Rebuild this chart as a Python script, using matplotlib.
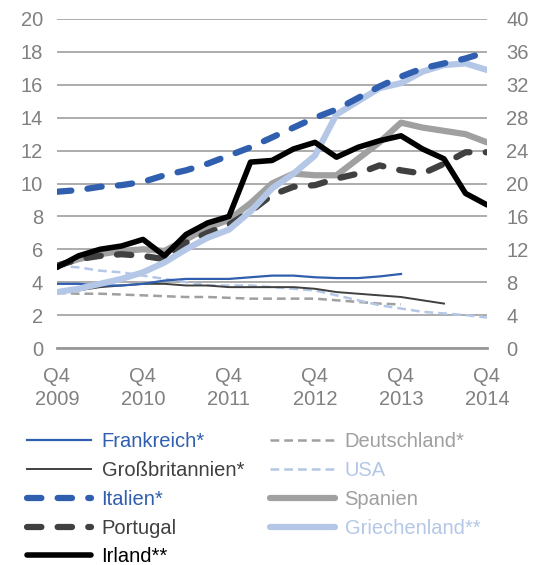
import matplotlib
matplotlib.use("Agg")
import matplotlib.pyplot as plt
import numpy as np

plt.rcParams['font.family'] = ['Liberation Sans', 'DejaVu Sans']

# quarters Q4 2009 .. Q4 2014
quarters = np.arange(21)
xtick_pos = [0, 4, 8, 12, 16, 20]
xtick_labels = ["Q4\n2009", "Q4\n2010", "Q4\n2011", "Q4\n2012", "Q4\n2013", "Q4\n2014"]

# left axis (%)
frankreich = [3.9, 3.9, 3.8, 3.8, 3.9, 4.1, 4.2, 4.2, 4.2, 4.3, 4.4, 4.4, 4.3, 4.25, 4.25, 4.35, 4.5]
deutschland = [3.35, 3.3, 3.3, 3.25, 3.2, 3.15, 3.1, 3.1, 3.05, 3.0, 3.0, 3.0, 3.0, 2.9, 2.8, 2.7, 2.65]
grossbritannien = [3.4, 3.5, 3.7, 3.8, 3.9, 3.9, 3.8, 3.8, 3.7, 3.7, 3.7, 3.7, 3.6, 3.4, 3.3, 3.2, 3.1, 2.9, 2.7]
usa = [5.0, 4.9, 4.7, 4.6, 4.4, 4.2, 4.0, 3.8, 3.8, 3.8, 3.7, 3.6, 3.5, 3.2, 2.9, 2.6, 2.4, 2.2, 2.1, 2.0, 1.85]
italien = [9.5, 9.6, 9.8, 9.9, 10.1, 10.5, 10.8, 11.2, 11.7, 12.2, 12.8, 13.4, 14.0, 14.5, 15.2, 15.9, 16.5, 17.0, 17.3, 17.6, 18.0]
spanien = [5.0, 5.4, 5.7, 5.9, 6.0, 5.9, 6.6, 7.3, 7.8, 8.8, 10.0, 10.6, 10.5, 10.5, 11.5, 12.5, 13.7, 13.4, 13.2, 13.0, 12.5]
portugal = [5.0, 5.4, 5.6, 5.7, 5.6, 5.4, 6.4, 7.0, 7.5, 8.3, 9.3, 9.8, 9.9, 10.3, 10.6, 11.1, 10.8, 10.6, 11.2, 11.9, 11.9]

# right axis (%)
griechenland = [6.8, 7.2, 7.8, 8.4, 9.2, 10.4, 12.0, 13.4, 14.4, 16.6, 19.4, 21.2, 23.4, 28.4, 30.0, 31.6, 32.2, 33.6, 34.4, 34.6, 33.8]
irland = [9.8, 11.2, 12.0, 12.4, 13.2, 11.2, 13.8, 15.2, 16.0, 22.6, 22.8, 24.2, 25.0, 23.2, 24.4, 25.2, 25.8, 24.2, 23.0, 18.8, 17.4]

blue = '#2f5fae'
lightblue = '#b4c7e7'
gray = '#a0a0a0'
dark = '#404040'
tickcol = '#808080'

fig = plt.figure(figsize=(5.39, 5.65), dpi=100)
ax = fig.add_axes([57/539, 1-348/565, 430/539, 329/565])
ax2 = ax.twinx()

h = {}
h['de'], = ax.plot(quarters[:len(deutschland)], deutschland, color=gray, lw=1.8,
                   dashes=(3.5, 2), label='Deutschland*')
h['us'], = ax.plot(quarters[:len(usa)], usa, color=lightblue, lw=1.8,
                   dashes=(3.5, 2), label='USA')
h['gb'], = ax.plot(quarters[:len(grossbritannien)], grossbritannien, color=dark, lw=1.4,
                   label='Großbritannien*')
h['fr'], = ax.plot(quarters[:len(frankreich)], frankreich, color=blue, lw=1.6,
                   label='Frankreich*')
h['es'], = ax.plot(quarters, spanien, color=gray, lw=4.5, solid_capstyle='round',
                   label='Spanien')
h['pt'], = ax.plot(quarters, portugal, color=dark, lw=4.5, dashes=(2.3, 2.6),
                   dash_capstyle='round', label='Portugal')
h['gr'], = ax2.plot(quarters, griechenland, color=lightblue, lw=4.5,
                    solid_capstyle='round', label='Griechenland**')
h['ie'], = ax2.plot(quarters, irland, color='black', lw=4,
                    solid_capstyle='round', label='Irland**')
h['it'], = ax2.plot(quarters, [v * 2 for v in italien], color=blue, lw=4.5,
                    dashes=(2.3, 2.6), dash_capstyle='round', label='Italien*')

ax.set_xlim(0, 20)
ax.set_ylim(0, 20)
ax.set_yticks(range(0, 21, 2))
ax2.set_ylim(0, 40)
ax2.set_yticks(range(0, 41, 4))
ax.set_xticks(xtick_pos)
ax.set_xticklabels(xtick_labels, linespacing=1.25)

ax.set_axisbelow(True)
ax.yaxis.grid(True, color='#a6a6a6', lw=1.3)
for a in (ax, ax2):
    for s in a.spines.values():
        s.set_visible(False)
ax.spines['bottom'].set_visible(True)
ax.spines['bottom'].set_color('#999999')
ax.spines['bottom'].set_linewidth(2)

ax.tick_params(axis='both', length=0, labelsize=14.5, colors=tickcol)
ax.tick_params(axis='y', pad=10)
ax.tick_params(axis='x', pad=14)
ax2.tick_params(axis='y', length=0, labelsize=14.5, colors=tickcol, pad=14)

order = ['fr', 'gb', 'it', 'pt', 'ie', 'de', 'us', 'es', 'gr']
fig.legend([h[k] for k in order], [h[k].get_label() for k in order],
           loc='upper left', bbox_to_anchor=(27/539, 1-432/565), ncol=2,
           frameon=False, fontsize=14.5, handlelength=3.2, handletextpad=0.5,
           labelspacing=0.49, columnspacing=1.3, borderpad=0, borderaxespad=0,
           labelcolor='linecolor')

fig.savefig('out.png', dpi=100)
